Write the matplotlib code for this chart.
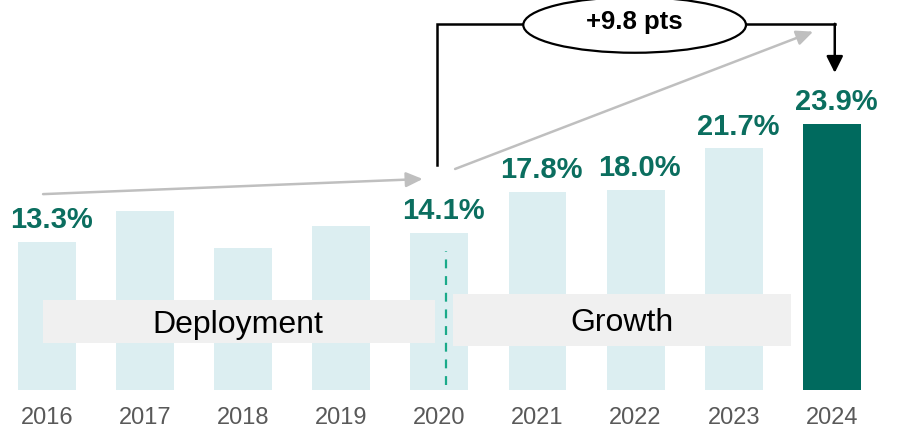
import matplotlib
matplotlib.use("Agg")
import matplotlib.pyplot as plt
from matplotlib.patches import Ellipse, Rectangle

years = ["2016", "2017", "2018", "2019", "2020", "2021", "2022", "2023", "2024"]
values = [13.3, 16.1, 12.8, 14.7, 14.1, 17.8, 18.0, 21.7, 23.9]
labels = ["13.3%", None, None, None, "14.1%", "17.8%", "18.0%", "21.7%", "23.9%"]
phase_names = ["Deployment", "Growth"]
delta_text = "+9.8 pts"

plt.rcParams['font.family'] = ['Liberation Sans', 'DejaVu Sans']

LIGHT = "#DCEEF1"
DARK = "#006A5E"
LABEL = "#0B6E5F"
BOX = "#F0F0F0"
GRAY = "#BFBFBF"

fig = plt.figure(figsize=(9, 4.37), dpi=100)
ax = fig.add_axes([0, 0, 1, 1])
ax.set_xlim(-0.479, 8.695)
ax.set_ylim(-4.22, 35.04)
ax.axis("off")

x = list(range(len(years)))
colors = [LIGHT] * (len(years) - 1) + [DARK]
ax.bar(x, values, width=0.591, color=colors, zorder=1)

# value labels
for xi, v, lab in zip(x, values, labels):
    if lab:
        ax.annotate(lab, (xi, v), xytext=(3, 10), textcoords="offset points",
                    ha="center", va="baseline", fontsize=21, fontweight="bold",
                    color=LABEL, zorder=5)

# year labels
for xi, yr in zip(x, years):
    ax.text(xi, -2.55, yr, ha="center", va="center", fontsize=17, color="#595959")

# phase boxes
ax.add_patch(Rectangle((-0.04, 4.22), 4.0, 3.87, facecolor=BOX, edgecolor="none", zorder=2))
ax.add_patch(Rectangle((4.14, 3.95), 3.44, 4.68, facecolor=BOX, edgecolor="none", zorder=2))
ax.text(1.95, 5.8, phase_names[0], ha="center", va="center", fontsize=23, color="black", zorder=3)
ax.text(5.86, 6.05, phase_names[1], ha="center", va="center", fontsize=23, color="black", zorder=3)

# dashed divider
ax.plot([4.07, 4.07], [0.45, 12.5], color="#1AAA8A", lw=1.6, ls=(0, (4, 3.5)), zorder=3)

# gray trend arrows
ax.annotate("", xy=(3.83, 18.96), xytext=(-0.04, 17.6),
            arrowprops=dict(arrowstyle="-|>,head_length=1.0,head_width=0.45",
                            color=GRAY, lw=1.8, shrinkA=0, shrinkB=0), zorder=4)
ax.annotate("", xy=(7.81, 32.2), xytext=(4.16, 19.86),
            arrowprops=dict(arrowstyle="-|>,head_length=1.0,head_width=0.45",
                            color=GRAY, lw=1.8, shrinkA=0, shrinkB=0), zorder=4)

# black bracket
ax.plot([3.98, 3.98, 8.03], [20.2, 32.9, 32.9], color="black", lw=1.8,
        solid_joinstyle="miter", zorder=4)
ax.annotate("", xy=(8.03, 28.5), xytext=(8.03, 32.9),
            arrowprops=dict(arrowstyle="-|>,head_length=1.0,head_width=0.5",
                            color="black", lw=1.8, shrinkA=0, shrinkB=0), zorder=4)
ax.add_patch(Ellipse((5.99, 32.8), 2.27, 5.0, facecolor="white", edgecolor="black",
                     lw=1.6, zorder=5))
ax.text(5.99, 33.1, delta_text, ha="center", va="center", fontsize=18.5,
        fontweight="bold", color="black", zorder=6)

fig.savefig("out.png", dpi=100)
